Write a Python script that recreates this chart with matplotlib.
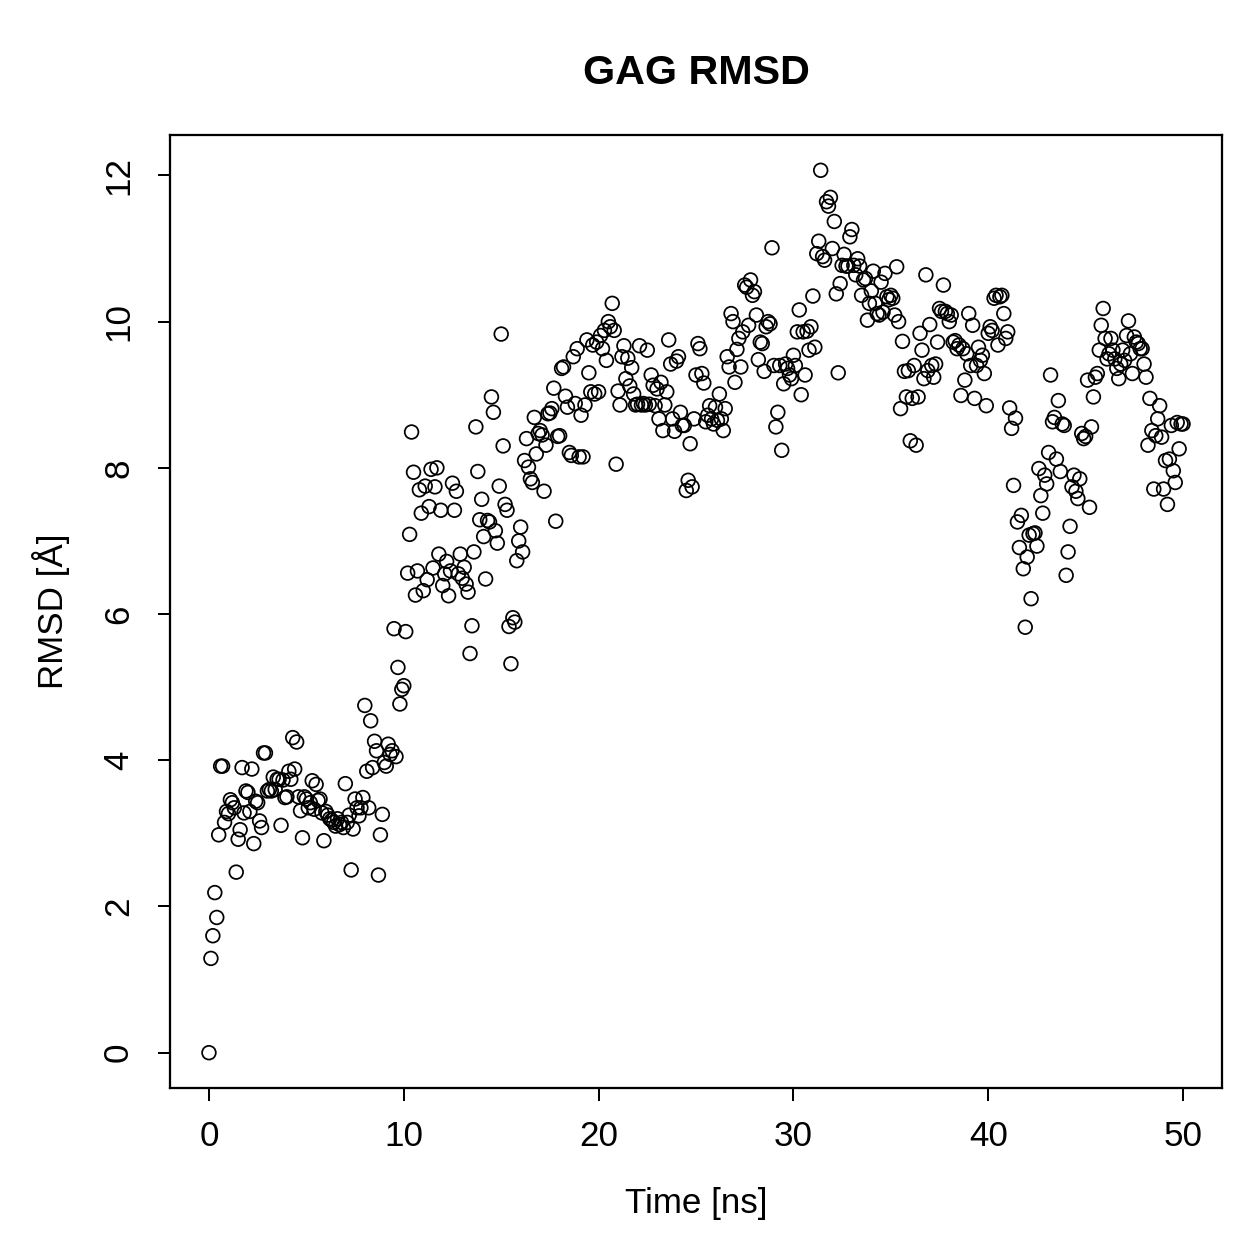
import numpy as np
import matplotlib
matplotlib.use('Agg')
import matplotlib.pyplot as plt

plt.rcParams['font.family'] = ['Liberation Sans', 'DejaVu Sans']

# simulation time [ns], sampled every 0.1 ns
time = np.round(np.arange(0, 501) * 0.1, 1)

# RMSD [A], one row per ns
rmsd = [
    0.00, 1.29, 1.60, 2.19, 1.85, 2.98, 3.92, 3.92, 3.15, 3.30,
    3.27, 3.46, 3.42, 3.35, 2.47, 2.92, 3.05, 3.90, 3.28, 3.58,
    3.56, 3.30, 3.88, 2.86, 3.44, 3.42, 3.17, 3.08, 4.10, 4.10,
    3.58, 3.60, 3.58, 3.77, 3.60, 3.74, 3.74, 3.11, 3.73, 3.49,
    3.50, 3.85, 3.74, 4.31, 3.88, 4.25, 3.50, 3.31, 2.94, 3.50,
    3.47, 3.35, 3.42, 3.72, 3.33, 3.67, 3.45, 3.47, 3.28, 2.90,
    3.30, 3.25, 3.20, 3.18, 3.15, 3.10, 3.20, 3.12, 3.15, 3.08,
    3.68, 3.15, 3.25, 2.50, 3.06, 3.47, 3.35, 3.24, 3.35, 3.49,
    4.75, 3.85, 3.35, 4.54, 3.90, 4.26, 4.13, 2.43, 2.98, 3.26,
    3.97, 3.92, 4.22, 4.08, 4.13, 5.80, 4.05, 5.27, 4.77, 4.97,
    5.02, 5.76, 6.56, 7.09, 8.49, 7.94, 6.26, 6.59, 7.70, 7.38,
    6.32, 7.75, 6.47, 7.47, 7.98, 6.63, 7.74, 8.00, 6.82, 7.42,
    6.39, 6.55, 6.72, 6.25, 6.59, 7.79, 7.42, 7.68, 6.55, 6.82,
    6.49, 6.64, 6.41, 6.30, 5.46, 5.84, 6.85, 8.56, 7.95, 7.29,
    7.57, 7.06, 6.48, 7.28, 7.26, 8.97, 8.76, 7.14, 6.97, 7.75,
    9.83, 8.30, 7.50, 7.42, 5.83, 5.32, 5.95, 5.89, 6.73, 7.00,
    7.19, 6.85, 8.10, 8.40, 8.01, 7.85, 7.80, 8.69, 8.19, 8.47,
    8.51, 8.45, 7.68, 8.31, 8.74, 8.75, 8.81, 9.09, 7.27, 8.43,
    8.44, 9.36, 9.38, 8.98, 8.83, 8.21, 8.17, 9.52, 8.88, 9.63,
    8.15, 8.72, 8.15, 8.86, 9.75, 9.30, 9.04, 9.68, 9.01, 9.72,
    9.04, 9.81, 9.63, 9.88, 9.47, 10.00, 9.93, 10.25, 9.88, 8.05,
    9.05, 8.86, 9.52, 9.67, 9.22, 9.50, 9.12, 9.37, 9.01, 8.86,
    8.87, 9.67, 8.86, 8.88, 8.86, 9.61, 8.87, 9.27, 9.13, 8.85,
    9.08, 8.67, 9.17, 8.51, 8.86, 9.04, 9.75, 9.42, 8.67, 8.50,
    9.46, 9.52, 8.76, 8.58, 8.58, 7.69, 7.83, 8.33, 7.74, 8.67,
    9.27, 9.70, 9.63, 9.29, 9.16, 8.63, 8.72, 8.85, 8.67, 8.60,
    8.83, 8.65, 9.01, 8.67, 8.51, 8.81, 9.52, 9.38, 10.11, 10.00,
    9.17, 9.62, 9.77, 9.38, 9.86, 10.50, 10.47, 9.95, 10.57, 10.36,
    10.41, 10.09, 9.48, 9.72, 9.70, 9.32, 9.93, 10.00, 9.97, 11.01,
    9.40, 8.56, 8.76, 9.40, 8.24, 9.15, 9.42, 9.36, 9.27, 9.22,
    9.54, 9.40, 9.86, 10.16, 9.00, 9.86, 9.27, 9.87, 9.61, 9.93,
    10.35, 9.65, 10.93, 11.10, 12.07, 10.89, 10.84, 11.64, 11.58, 11.70,
    11.00, 11.37, 10.38, 9.30, 10.52, 10.77, 10.92, 10.76, 10.76, 11.16,
    11.26, 10.77, 10.64, 10.86, 10.76, 10.36, 10.57, 10.59, 10.02, 10.25,
    10.42, 10.69, 10.25, 10.11, 10.09, 10.54, 10.13, 10.66, 10.34, 10.30,
    10.36, 10.32, 10.09, 10.75, 10.00, 8.81, 9.73, 9.32, 8.97, 9.33,
    8.37, 8.95, 9.40, 8.31, 8.97, 9.84, 9.61, 9.22, 10.64, 9.33,
    9.96, 9.40, 9.24, 9.42, 9.72, 10.18, 10.14, 10.50, 10.14, 10.11,
    10.00, 10.09, 9.72, 9.74, 9.63, 9.68, 8.99, 9.63, 9.20, 9.56,
    10.11, 9.40, 9.95, 8.95, 9.40, 9.65, 9.47, 9.54, 9.29, 8.85,
    9.84, 9.93, 9.88, 10.32, 10.36, 9.68, 10.34, 10.36, 10.11, 9.77,
    9.86, 8.82, 8.54, 7.76, 8.68, 7.26, 6.91, 7.35, 6.62, 5.82,
    6.78, 7.08, 6.21, 7.10, 7.11, 6.93, 7.99, 7.62, 7.38, 7.90,
    7.78, 8.21, 9.27, 8.63, 8.69, 8.12, 8.92, 7.95, 8.60, 8.58,
    6.53, 6.85, 7.20, 7.74, 7.90, 7.68, 7.58, 7.85, 8.47, 8.40,
    8.43, 9.20, 7.46, 8.56, 8.97, 9.24, 9.29, 9.61, 9.95, 10.18,
    9.77, 9.49, 9.56, 9.77, 9.61, 9.49, 9.36, 9.22, 9.42, 9.61,
    9.47, 9.81, 10.01, 9.56, 9.29, 9.79, 9.72, 9.70, 9.63, 9.63,
    9.42, 9.24, 8.31, 8.95, 8.51, 7.71, 8.44, 8.67, 8.85, 8.42,
    7.71, 8.10, 7.50, 8.12, 8.58, 7.96, 7.80, 8.62, 8.26, 8.60,
    8.60,
]

fig = plt.figure(figsize=(1259 / 180, 1259 / 180), dpi=180)
ax = fig.add_axes([170 / 1259, 1 - 1088 / 1259, 1052 / 1259, 953 / 1259])

ax.scatter(time, rmsd, s=30, facecolors='none', edgecolors='black', linewidths=0.7)

# R style 4% padding around the data
xr = time.max() - time.min()
yr = max(rmsd) - min(rmsd)
ax.set_xlim(time.min() - 0.04 * xr, time.max() + 0.04 * xr)
ax.set_ylim(min(rmsd) - 0.04 * yr, max(rmsd) + 0.04 * yr)

ax.set_xticks([0, 10, 20, 30, 40, 50])
ax.set_yticks([0, 2, 4, 6, 8, 10, 12])
ax.tick_params(axis='both', direction='out', length=5, width=0.8, labelsize=14)
ax.tick_params(axis='x', pad=8)
ax.tick_params(axis='y', pad=9)
for lab in ax.get_yticklabels():
    lab.set_rotation(90)
    lab.set_va('center')
for sp in ax.spines.values():
    sp.set_linewidth(0.9)

ax.set_xlabel('Time [ns]', fontsize=14)
ax.set_ylabel('RMSD [Å]', fontsize=14)
ax.xaxis.set_label_coords(0.5, -0.104)
ax.yaxis.set_label_coords(-0.095, 0.5)

fig.text(696 / 1259, 1 - 84 / 1259, 'GAG RMSD', ha='center', va='baseline',
         fontsize=16.5, fontweight='bold')

fig.savefig('out.png', dpi=180)
